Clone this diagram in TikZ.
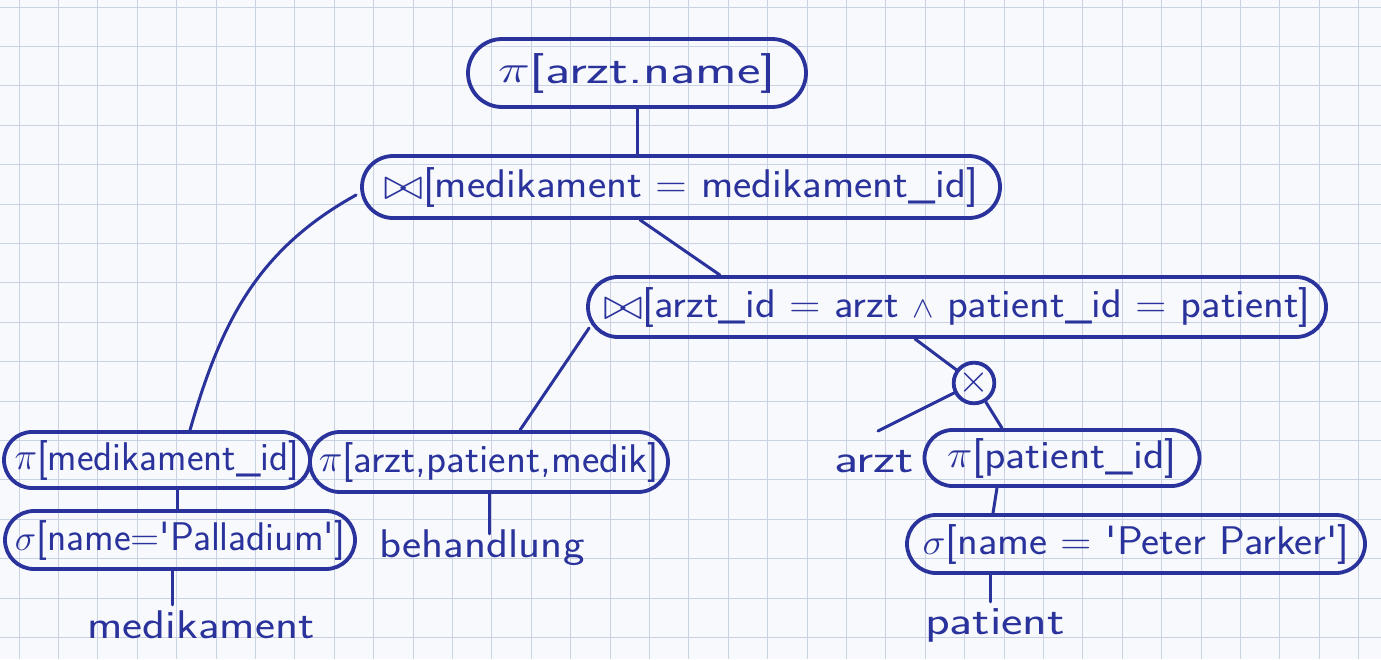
\documentclass[tikz,border=0pt]{standalone}
\usepackage{graphicx}
\usetikzlibrary{shapes.misc,calc}
\definecolor{ink}{RGB}{42,50,156}
\definecolor{paper}{RGB}{247,249,252}
\definecolor{gridc}{RGB}{200,210,226}
\newcommand{\hwfit}[2]{\resizebox{#1}{\height}{#2}}
\newcommand{\Pj}{\raisebox{0.5pt}{\scalebox{1.55}{$\pi$}}}
\newcommand{\Jn}{\raisebox{-2pt}{\scalebox{1.8}{$\bowtie$}}}
\newcommand{\Sl}{\scalebox{1.45}{$\sigma$}}
\newcommand{\Aw}{\scalebox{1.2}{$\wedge$}}
\tikzset{
  hw/.style={font=\fontsize{40}{44}\selectfont\sffamily, text=ink, inner sep=0pt},
  opbox/.style={hw, draw=ink, line width=3.8pt, rounded rectangle},
  link/.style={draw=ink, line width=3pt, line cap=round},
  gridline/.style={draw=gridc, line width=0.7pt}
}
\begin{document}
\begin{tikzpicture}[x=1pt,y=-1pt]
\fill[paper] (0,0) rectangle (1381,659);
\useasboundingbox (0,0) rectangle (1381,659);
\foreach \i in {0,...,34} \draw[gridline] ({19+39.4*\i},0) -- ({19+39.4*\i},659);
\foreach \j in {0,...,16} \draw[gridline] (0,{7+39.4*\j}) -- (1381,{7+39.4*\j});

% operator nodes
\node[opbox, minimum width=338pt, minimum height=68pt] (top) at (637,73) {\hwfit{278pt}{\Pj[arzt.name]}};
\node[opbox, minimum width=638pt, minimum height=62pt] (j1) at (681,187) {\hwfit{595pt}{\Jn[medikament = medikament\_id]}};
\node[opbox, minimum width=738pt, minimum height=60pt] (j2) at (957,307) {\hwfit{707pt}{\Jn[arzt\_id = arzt \Aw{} patient\_id = patient]}};
\node[hw, draw=ink, line width=3.8pt, circle, minimum size=36pt] (x) at (974,383) {\scalebox{1.6}{$\times$}};
\node[opbox, minimum width=306pt, minimum height=56pt] (pm) at (157,460) {\hwfit{285pt}{\Pj[medikament\_id]}};
\node[opbox, minimum width=358pt, minimum height=60pt] (pa) at (489,462) {\hwfit{340pt}{\Pj[arzt,patient,medik]}};
\node[opbox, minimum width=350pt, minimum height=58pt] (sp) at (180,540) {\hwfit{330pt}{\Sl[name=\textquotesingle Palladium\textquotesingle]}};
\node[opbox, minimum width=275pt, minimum height=56pt] (pp) at (1062,458) {\hwfit{230pt}{\Pj[patient\_id]}};
\node[opbox, minimum width=458pt, minimum height=58pt] (spp) at (1136,544) {\hwfit{427pt}{\Sl[name = \textquotesingle Peter Parker\textquotesingle]}};

% relation names
\node[hw] (arzt) at (874,462) {\hwfit{80pt}{arzt}};
\node[hw] (beh) at (482,548) {\hwfit{205pt}{behandlung}};
\node[hw] (med) at (201,625) {\hwfit{227pt}{medikament}};
\node[hw] (pat) at (995,625) {\hwfit{140pt}{patient}};
\coordinate (xe) at (878,431);

% connectors
\draw[link] (top.south) -- (top.south |- j1.north);
\draw[link] ([xshift=-41pt]j1.south) -- ([xshift=-237pt]j2.north);
\draw[link] ([xshift=-4pt,yshift=-8pt]j1.west) to[out=209,in=74] ([xshift=33pt]pm.north);
\draw[link] ([xshift=3pt,yshift=-21pt]j2.west) -- ([xshift=31pt]pa.north);
\draw[link] ([xshift=-42pt]j2.south) -- (x);
\draw[link] (x) -- (xe);
\draw[link] (x) -- ([xshift=-60pt]pp.north);
\draw[link] ([xshift=20pt]pm.south) -- ([xshift=20pt]pm.south |- sp.north);
\draw[link] ([xshift=-8pt]sp.south) -- ([xshift=-8pt,yshift=6pt]sp.south |- med.north);
\draw[link] (pa.south) -- ([yshift=-4pt]pa.south |- beh.north);
\draw[link] ([xshift=-65pt]pp.south) -- ([xshift=-143pt]spp.north);
\draw[link] ([xshift=-146pt]spp.south) -- ([xshift=-146pt,yshift=6pt]spp.south |- pat.north);
\end{tikzpicture}
\end{document}
